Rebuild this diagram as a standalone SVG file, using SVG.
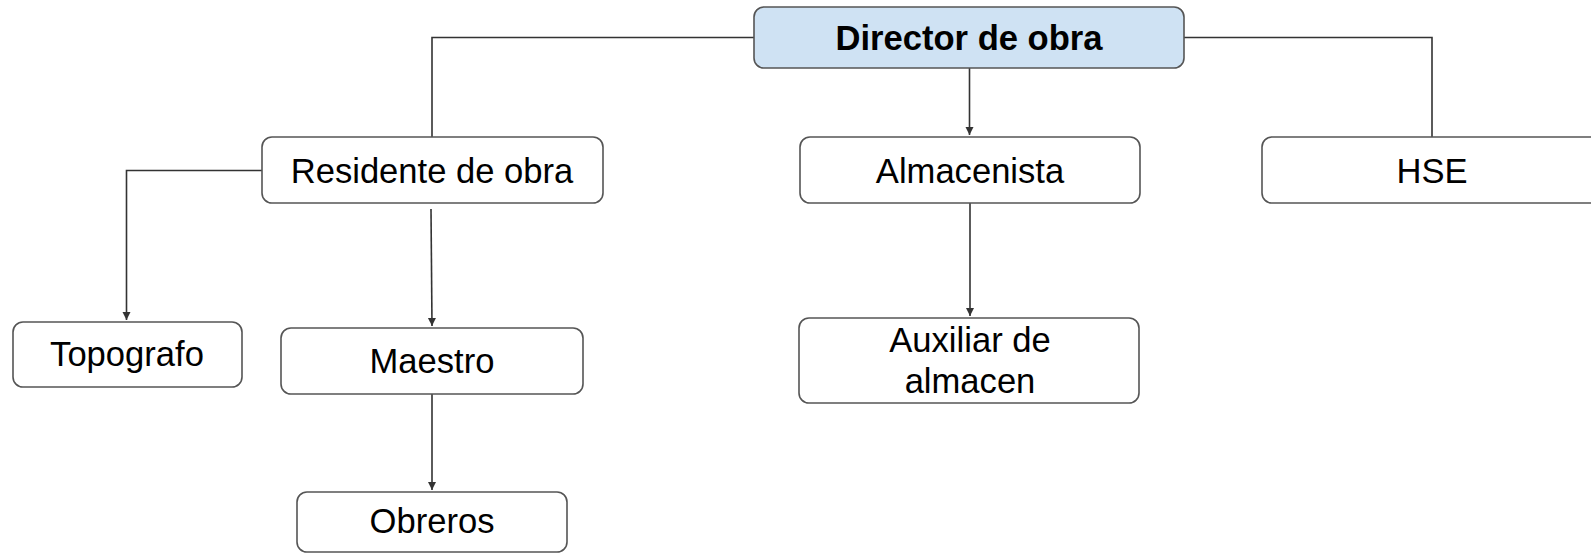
<svg xmlns="http://www.w3.org/2000/svg" width="1591" height="554" viewBox="0 0 1591 554">
<style>
.box{fill:#ffffff;stroke:#555555;stroke-width:1.6}
.top{fill:#cfe2f3;stroke:#555555;stroke-width:1.6}
.t{font-family:"Liberation Sans",Arial,sans-serif;font-size:34.6px;fill:#000000;text-anchor:middle}
.b{font-weight:bold}
.c{fill:none;stroke:#333333;stroke-width:1.6}
</style>
<defs>
<marker id="arr" markerWidth="10" markerHeight="10" refX="8" refY="4" orient="auto" markerUnits="userSpaceOnUse">
<path d="M0,0 L8,4 L0,8 Z" fill="#333333"/>
</marker>
</defs>
<rect width="1591" height="554" fill="#ffffff"/>
<g id="connectors">
<path class="c" d="M754,37.5 H432 V137"/>
<path class="c" d="M1184,37.5 H1432 V137"/>
<path class="c" d="M969.5,68 V135" marker-end="url(#arr)"/>
<path class="c" d="M262,170.5 H126.5 V320" marker-end="url(#arr)"/>
<path class="c" d="M431,209 L432,326" marker-end="url(#arr)"/>
<path class="c" d="M432,394 V490" marker-end="url(#arr)"/>
<path class="c" d="M970,203 V316" marker-end="url(#arr)"/>
</g>
<g id="director">
<rect class="top" x="754" y="7" width="430" height="61" rx="10"/>
<text class="t b" x="969" y="50">Director de obra</text>
</g>
<g id="residente">
<rect class="box" x="262" y="137" width="341" height="66" rx="10"/>
<text class="t" x="432" y="183">Residente de obra</text>
</g>
<g id="almacenista">
<rect class="box" x="800" y="137" width="340" height="66" rx="10"/>
<text class="t" x="970" y="183">Almacenista</text>
</g>
<g id="hse">
<rect class="box" x="1262" y="137" width="341" height="66" rx="10"/>
<text class="t" x="1432" y="183">HSE</text>
</g>
<g id="topografo">
<rect class="box" x="13" y="322" width="229" height="65" rx="10"/>
<text class="t" x="127" y="366">Topografo</text>
</g>
<g id="maestro">
<rect class="box" x="281" y="328" width="302" height="66" rx="10"/>
<text class="t" x="432" y="373">Maestro</text>
</g>
<g id="obreros">
<rect class="box" x="297" y="492" width="270" height="60" rx="10"/>
<text class="t" x="432" y="533">Obreros</text>
</g>
<g id="auxiliar">
<rect class="box" x="799" y="318" width="340" height="85" rx="10"/>
<text class="t" x="970" y="352">Auxiliar de</text>
<text class="t" x="970" y="393">almacen</text>
</g>
</svg>
